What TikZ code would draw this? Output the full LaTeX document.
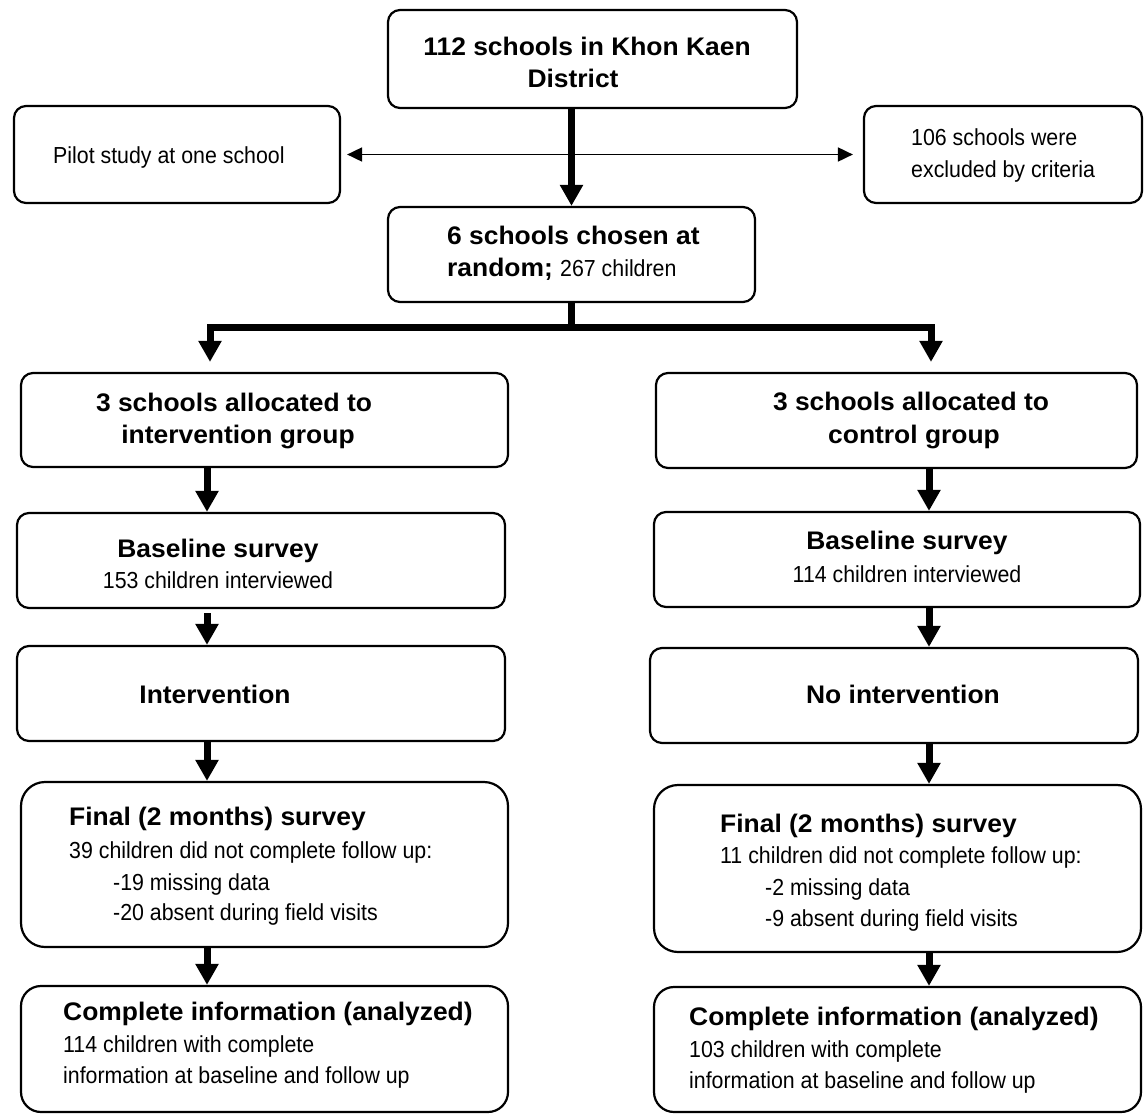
\documentclass[tikz,border=0pt]{standalone}
\usepackage{fontspec}
\setmainfont{Liberation Sans}
\newfontfamily\nfont[FakeStretch=0.92]{Liberation Sans}
\newfontfamily\bfont[FakeStretch=1.04]{Liberation Sans}
\usetikzlibrary{arrows.meta,fit,calc}
\begin{document}
\begin{tikzpicture}[x=1pt,y=-1pt,
  box/.style={draw, line width=2.2pt, rounded corners=#1, inner sep=0pt},
  box/.default=12pt,
  nt/.style={inner sep=0pt, font=\nfont\fontsize{23.2pt}{27pt}\selectfont},
  bt/.style={inner sep=0pt, font=\bfont\bfseries\fontsize{25.4pt}{30pt}\selectfont},
  thk/.style={line width=7pt, -{Triangle[width=22pt,length=21pt]}},
  splitline/.style={line width=7pt, line join=miter, {Triangle[width=22pt,length=21pt]}-{Triangle[width=22pt,length=21pt]}},
  thinarrow/.style={line width=1.8pt, {Triangle[width=14pt,length=15pt]}-{Triangle[width=14pt,length=15pt]}},
]
\useasboundingbox (0,0) rectangle (1145,1114);
\fill[white] (0,0) rectangle (1145,1114);

% top row
\node[box, fit={(388,10)(797,108)}] (top) {};
\node[bt, anchor=base] (topa) at (587,55) {112 schools in Khon Kaen};
\node[bt, anchor=base] (topb) at (573,87) {District};

\node[box, fit={(14,106)(340,203)}] (pilot) {};
\node[nt, anchor=base west] (pilott) at (53,163) {Pilot study at one school};

\node[box, fit={(864,106)(1142,203)}] (excl) {};
\node[nt, anchor=base west] (excla) at (911,145) {106 schools were};
\node[nt, anchor=base west] (exclb) at (911,177) {excluded by criteria};

\node[box, fit={(388,207)(755,302)}] (six) {};
\node[bt, anchor=base west] (sixa) at (447,244) {6 schools chosen at};
\node[bt, anchor=base west] (sixb) at (447,276) {random; {\nfont\mdseries\fontsize{23.2pt}{27pt}\selectfont 267 children}};

% first column boxes
\node[box, fit={(21,373)(508,467)}] (l1) {};
\node[bt, anchor=base] (l1a) at (234,411) {3 schools allocated to};
\node[bt, anchor=base] (l1b) at (238,443) {intervention group};
\node[box, fit={(656,373)(1137,468)}] (r1) {};
\node[bt, anchor=base] (r1a) at (911,410) {3 schools allocated to};
\node[bt, anchor=base] (r1b) at (914,443) {control group};

\node[box, fit={(17,513)(505,608)}] (l2) {};
\node[bt, anchor=base] (l2a) at (218,557) {Baseline survey};
\node[nt, anchor=base] (l2b) at (218,588) {153 children interviewed};
\node[box, fit={(654,512)(1140,607)}] (r2) {};
\node[bt, anchor=base] (r2a) at (907,549) {Baseline survey};
\node[nt, anchor=base] (r2b) at (907,582) {114 children interviewed};

\node[box, fit={(17,646)(505,741)}] (l3) {};
\node[bt, anchor=base] (l3a) at (215,703) {Intervention};
\node[box, fit={(650,648)(1138,743)}] (r3) {};
\node[bt, anchor=base] (r3a) at (903,703) {No intervention};

\node[box=24pt, fit={(21,782)(508,947)}] (l4) {};
\node[bt, anchor=base west] (l4a) at (69,825) {Final (2 months) survey};
\node[nt, anchor=base west] (l4b) at (69,858) {39 children did not complete follow up:};
\node[nt, anchor=base west] (l4c) at (113,890) {-19 missing data};
\node[nt, anchor=base west] (l4d) at (113,920) {-20 absent during field visits};
\node[box=24pt, fit={(654,785)(1141,952)}] (r4) {};
\node[bt, anchor=base west] (r4a) at (720,832) {Final (2 months) survey};
\node[nt, anchor=base west] (r4b) at (720,863) {11 children did not complete follow up:};
\node[nt, anchor=base west] (r4c) at (765,895) {-2 missing data};
\node[nt, anchor=base west] (r4d) at (765,926) {-9 absent during field visits};

\node[box=20pt, fit={(21,986)(508,1112)}] (l5) {};
\node[bt, anchor=base west] (l5a) at (63,1020) {Complete information (analyzed)};
\node[nt, anchor=base west] (l5b) at (63,1052) {114 children with complete};
\node[nt, anchor=base west] (l5c) at (63,1083) {information at baseline and follow up};
\node[box=20pt, fit={(654,987)(1141,1112)}] (r5) {};
\node[bt, anchor=base west] (r5a) at (689,1025) {Complete information (analyzed)};
\node[nt, anchor=base west] (r5b) at (689,1057) {103 children with complete};
\node[nt, anchor=base west] (r5c) at (689,1088) {information at baseline and follow up};

% connectors
\draw[thk] (six.north |- top.south) -- (six.north);
\draw[thinarrow, shorten <=6pt, shorten >=10pt] (pilot.east) -- (excl.west);

\coordinate (split) at ($(six.south)+(0,25)$);
\coordinate (lj) at (210,327);
\coordinate (rj) at (931,327);
\draw[line width=7pt] (six.south) -- (split);
\draw[splitline, shorten <=10pt, shorten >=10pt] (l1.north -| lj) -- (lj) -- (rj) -- (r1.north -| rj);

\coordinate (lc) at (207,0);
\coordinate (rc) at (929,0);
\draw[thk] (l1.south -| lc) -- (l2.north -| lc);
\draw[thk, shorten <=4pt] (l2.south -| lc) -- (l3.north -| lc);
\draw[thk] (l3.south -| lc) -- (l4.north -| lc);
\draw[thk] (l4.south -| lc) -- (l5.north -| lc);
\draw[thk] (r1.south -| rc) -- (r2.north -| rc);
\draw[thk] (r2.south -| rc) -- (r3.north -| rc);
\draw[thk] (r3.south -| rc) -- (r4.north -| rc);
\draw[thk] (r4.south -| rc) -- (r5.north -| rc);
\end{tikzpicture}
\end{document}
